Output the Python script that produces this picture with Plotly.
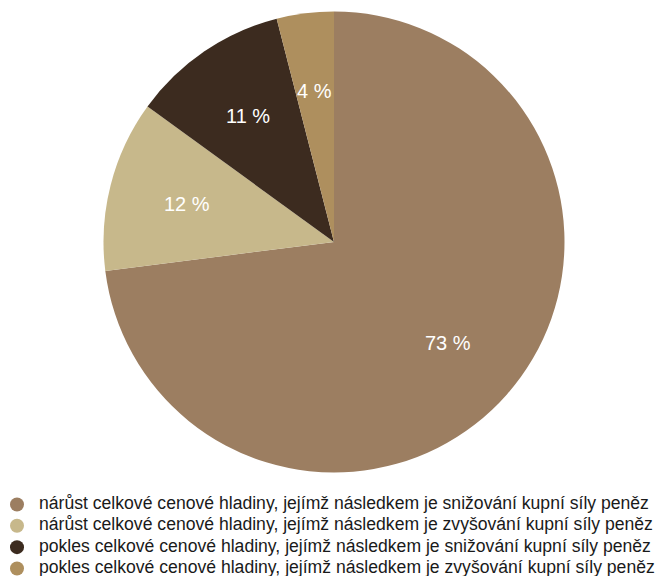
import math
import plotly.graph_objects as go

labels = [
    "nárůst celkové cenové hladiny, jejímž následkem je snižování kupní síly peněz",
    "nárůst celkové cenové hladiny, jejímž následkem je zvyšování kupní síly peněz",
    "pokles celkové cenové hladiny, jejímž následkem je snižování kupní síly peněz",
    "pokles celkové cenové hladiny, jejímž následkem je zvyšování kupní síly peněz",
]
values = [73, 12, 11, 4]
colors = ["#9c7e61", "#c7b88b", "#3c2b1f", "#ae8f5e"]

W, H = 658, 576
FONT = "Liberation Sans, Arial, Helvetica, sans-serif"

# pie geometry (px)
cx_px, cy_px, rad_px = 334, 242, 230.5
dom_x = [(cx_px - rad_px) / W, (cx_px + rad_px) / W]
dom_y = [1 - (cy_px + rad_px) / H, 1 - (cy_px - rad_px) / H]

fig = go.Figure()
fig.add_trace(go.Pie(
    labels=labels,
    values=values,
    marker=dict(colors=colors),
    sort=False,
    direction="clockwise",
    rotation=0,
    textinfo="none",
    showlegend=False,
    hoverinfo="label+value",
    domain=dict(x=dom_x, y=dom_y),
))

# percentage labels at 0.66 of the radius, middle of each slice
total = sum(values)
cum = 0
for v in values:
    mid = (cum + v / 2) / total * 2 * math.pi
    cum += v
    r = 0.66 * rad_px
    fig.add_annotation(
        x=(cx_px + r * math.sin(mid)) / W,
        y=1 - (cy_px - r * math.cos(mid)) / H,
        xref="paper", yref="paper",
        xanchor="center", yanchor="middle",
        text=f"{v} %", showarrow=False,
        font=dict(family=FONT, size=20, color="white"),
    )

# legend drawn as markers + text on a hidden axis
rows = list(range(len(labels) - 1, -1, -1))
fig.add_trace(go.Scatter(
    x=[0] * len(labels), y=rows, mode="markers",
    marker=dict(symbol="circle", size=14, color=colors),
    hoverinfo="skip", showlegend=False, cliponaxis=False,
))
fig.add_trace(go.Scatter(
    x=[22] * len(labels), y=rows, mode="text",
    text=labels, textposition="middle right",
    textfont=dict(family=FONT, size=17.6, color="#1a1a1a"),
    hoverinfo="skip", showlegend=False, cliponaxis=False,
))

fig.update_layout(
    width=W, height=H,
    margin=dict(l=0, r=0, t=0, b=0),
    paper_bgcolor="white",
    plot_bgcolor="rgba(0,0,0,0)",
    xaxis=dict(visible=False, range=[-17, 641], domain=[0, 1], fixedrange=True),
    yaxis=dict(visible=False, range=[-0.352, 5.048], domain=[0, 0.2], fixedrange=True),
    font=dict(family=FONT, color="#1a1a1a"),
    showlegend=False,
)

# drop the default page margin so the figure sits at the window's corner
fig.write_html(
    "out.html",
    config={"displayModeBar": False},
    post_script="document.body.style.margin='0';document.body.style.overflow='hidden';",
)
